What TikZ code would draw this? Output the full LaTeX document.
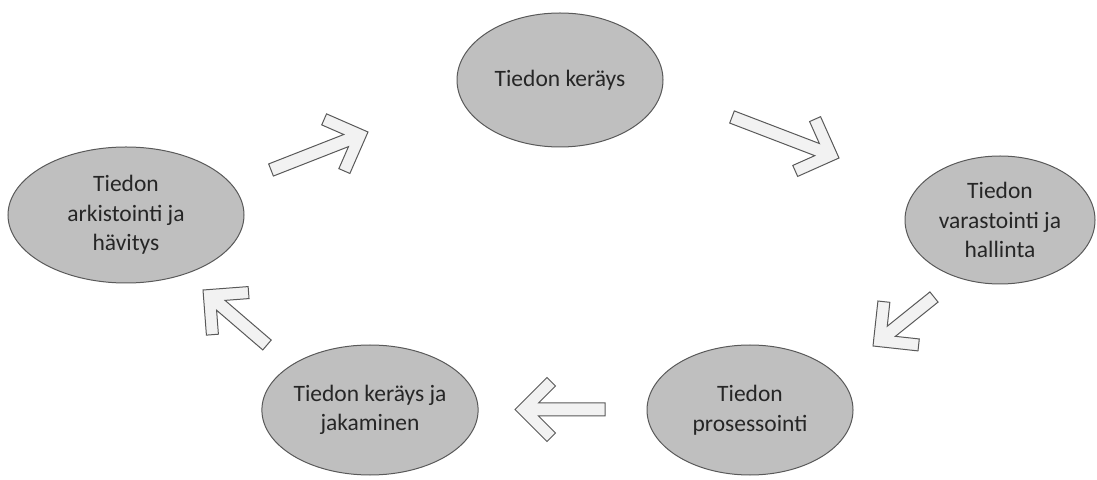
\documentclass[tikz,border=0pt]{standalone}
\usepackage{fontspec}
\setmainfont{Carlito}
\usetikzlibrary{shapes.geometric,calc}

\definecolor{bubblegray}{RGB}{191,191,191}
\definecolor{edgegray}{RGB}{89,89,89}
\definecolor{arrowfill}{RGB}{242,242,242}
\definecolor{textgray}{RGB}{38,38,38}

\tikzset{
  phase/.style={ellipse, draw=edgegray, fill=bubblegray, line width=1pt,
    inner sep=0pt, align=center, text=textgray,
    font=\fontsize{23.5}{29.5}\selectfont},
  arrowbox/.style={draw=edgegray, fill=arrowfill, line width=1pt}
}

% open block arrow from #1 (tail) to #2 (tip)
\newcommand\blockarrow[2]{%
  \draw[arrowbox] let \p1=(#1), \p2=(#2),
      \n1={atan2(\y2-\y1,\x2-\x1)}, \n2={veclen(\x2-\x1,\y2-\y1)} in
    [shift={(\p2)}, rotate=\n1]
    (0,0) -- (-32,32) -- (-40.5,23.5) -- (-23.5,6.5) -- ({-1*\n2},6.5)
    -- ({-1*\n2},-6.5) -- (-23.5,-6.5) -- (-40.5,-23.5) -- (-32,-32) -- cycle;
}

\begin{document}
\begin{tikzpicture}[x=1pt,y=1pt]
    \useasboundingbox (0,0) rectangle (1097,479);

    % Phases of the cycle
    \node[phase, minimum width=206, minimum height=134] (kerays) at (560,399) {Tiedon keräys};
    \node[phase, minimum width=190, minimum height=128] (varastointi) at (1000,259) {Tiedon\\varastointi ja\\hallinta};
    \node[phase, minimum width=206, minimum height=130] (prosessointi) at (750,69) {Tiedon\\prosessointi};
    \node[phase, minimum width=206, minimum height=130] (jakaminen) at (370,69) {Tiedon keräys ja\\jakaminen};
    \node[phase, minimum width=236, minimum height=136] (arkistointi) at (126,264) {Tiedon\\arkistointi ja\\hävitys};

    % Arrow ends
    \coordinate (a1) at (271,309);  \coordinate (b1) at (368,347);
    \coordinate (a2) at (732,362);  \coordinate (b2) at (839,321);
    \coordinate (a3) at (934,182);  \coordinate (b3) at (873,133);
    \coordinate (a4) at (605,69.5); \coordinate (b4) at (515,69.5);
    \coordinate (a5) at (267,134);  \coordinate (b5) at (203,189);

    % Arrows
    \blockarrow{a1}{b1}
    \blockarrow{a2}{b2}
    \blockarrow{a3}{b3}
    \blockarrow{a4}{b4}
    \blockarrow{a5}{b5}
\end{tikzpicture}
\end{document}
